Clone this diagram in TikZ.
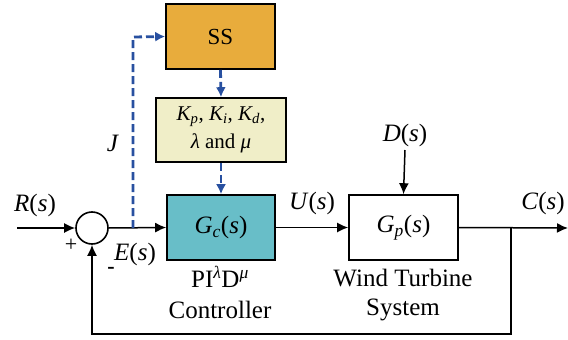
\documentclass[tikz,border=0pt]{standalone}
\usepackage{amsmath}
\usepackage{fontspec}
\setmainfont{Liberation Serif}
\usetikzlibrary{arrows.meta}
\definecolor{ssorange}{RGB}{232,172,60}
\definecolor{paryellow}{RGB}{240,238,200}
\definecolor{gcteal}{RGB}{104,190,200}
\definecolor{dashblue}{RGB}{40,80,160}
\begin{document}
\begin{tikzpicture}[x=1pt,y=-1pt,
  blk/.style={draw=black,line width=1.6pt,rectangle,inner sep=0pt,font=\fontsize{25}{28}\selectfont},
  lbl/.style={inner sep=0pt,font=\fontsize{25}{28}\selectfont},
  sig/.style={line width=1.5pt,-{Latex[length=11pt,width=10pt]}},
  dsig/.style={dashblue,line width=2.8pt,dash pattern=on 8pt off 4pt,-{Latex[length=10pt,width=10pt]}},
]
\useasboundingbox (0,0) rectangle (568,340);
\node[blk,fill=ssorange,minimum width=109pt,minimum height=65pt,font=\fontsize{23}{26}\selectfont] (ss) at (220.5,36.5) {SS};
\node[blk,fill=paryellow,minimum width=130pt,minimum height=64pt,align=center,font=\fontsize{21}{28}\selectfont] (par) at (221,130) {$\textit{K}_{\textit{p}}$, $\textit{K}_{\textit{i}}$, $\textit{K}_{\textit{d}}$,\\ \textit{λ} and \textit{μ}};
\node[blk,fill=gcteal,minimum width=108pt,minimum height=65pt] (gc) at (221,227.5) {$\textit{G}_{\textit{c}}$(\textit{s})};
\node[blk,minimum width=109pt,minimum height=65pt] (gp) at (403.5,227.5) {$\textit{G}_{\textit{p}}$(\textit{s})};
\node[draw=black,line width=1.6pt,circle,minimum size=32pt,inner sep=0pt] (sum) at (92,228) {};
\coordinate (in) at (17,228);
\coordinate (out) at (568,228);
\coordinate (br) at (511,228);
\coordinate (fb) at (511,334);
\coordinate (jb) at (133,228);
\coordinate (jt) at (133,37);
\coordinate (dt) at (405,150);
% main signal path
\draw[sig] (in) -- (sum.west);
\draw[sig] (sum.east) -- (gc.west);
\draw[sig] (gc.east) -- (gp.west);
\draw[sig] (gp.east) -- (out);
\draw[sig] (br) |- (fb) -| (sum.south);
\draw[sig] (dt) -- (gp.north);
% dashed tuning path
\draw[dsig] (jb) -- (jt) -- (ss.west);
\draw[dsig] (ss.south) -- (par.north);
\draw[dsig] (par.south) -- (gc.north);
% labels
\node[lbl] (rl) at (35,205) {\textit{R}(\textit{s})};
\node[lbl,font=\fontsize{22}{24}\selectfont] (pl) at (71,245) {+};
\node[lbl,font=\fontsize{22}{24}\selectfont\bfseries] (ml) at (111,270) {-};
\node[lbl] (el) at (135,254) {\textit{E}(\textit{s})};
\node[lbl] (jl) at (113,143) {\textit{J}};
\node[lbl] (ul) at (312,203) {\textit{U}(\textit{s})};
\node[lbl] (cl) at (543,203) {\textit{C}(\textit{s})};
\node[lbl] (dl) at (405,135) {\textit{D}(\textit{s})};
\node[lbl] (ctl1) at (220,277) {PI\textsuperscript{\textit{λ}}D\textsuperscript{\textit{μ}}};
\node[lbl] (ctl2) at (220,310) {Controller};
\node[lbl] (wt1) at (403,278) {Wind Turbine};
\node[lbl] (wt2) at (403,310) {System};
\end{tikzpicture}
\end{document}
